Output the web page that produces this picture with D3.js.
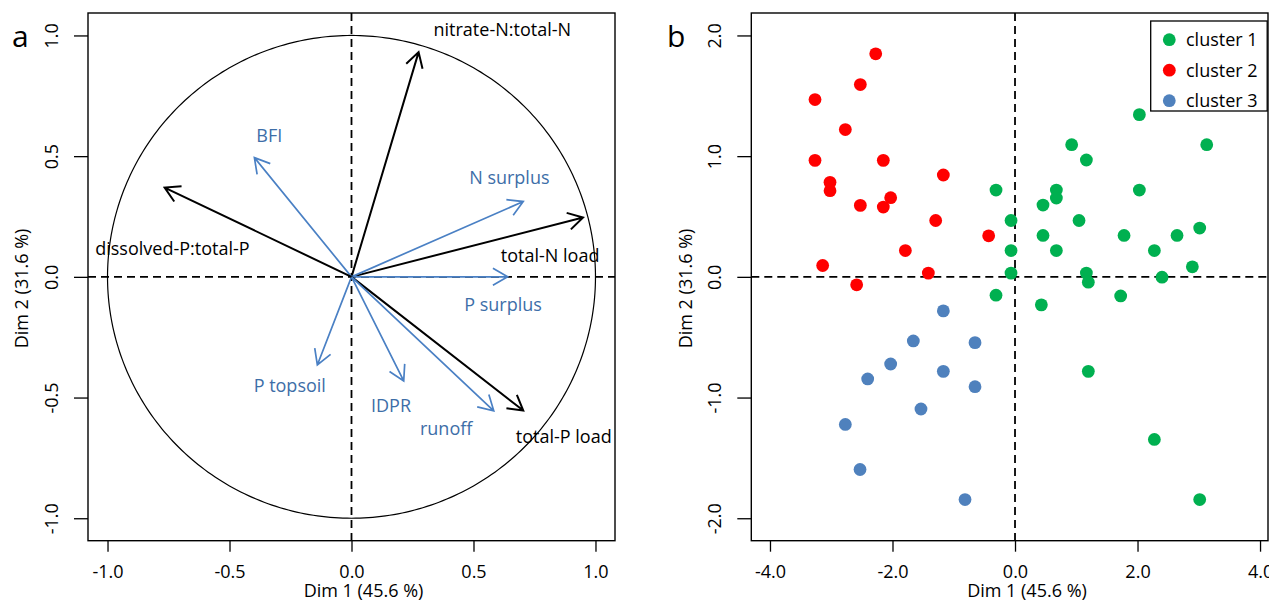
<!DOCTYPE html>
<html><head><meta charset="utf-8">
<script src="https://cdn.jsdelivr.net/npm/d3@7"></script>
<style>
body{margin:0;background:#fff;}
svg{display:block;font-family:"Open Sans",sans-serif;}
</style></head>
<body><svg id="c" width="1269" height="603"></svg>
<script>
// ---------- Panel a: variable correlation circle ----------
const varNames  = ["nitrate-N:total-N","total-N load","N surplus","P surplus","total-P load","runoff","IDPR","P topsoil","BFI","dissolved-P:total-P"];
const varGroup  = ["active","active","supp","supp","active","supp","supp","supp","supp","active"];
const varDim1   = [0.275, 0.949, 0.704, 0.640, 0.704, 0.583, 0.214, -0.140, -0.398, -0.766];
const varDim2   = [0.931, 0.246, 0.312, 0.000, -0.554, -0.555, -0.431, -0.365, 0.494, 0.370];
const labDim1   = [0.618, 0.814, 0.647, 0.621, 0.870, 0.388, 0.162, -0.253, -0.337, -0.734];
const labDim2   = [1.024, 0.088, 0.410, -0.116, -0.663, -0.630, -0.533, -0.452, 0.586, 0.116];
const ticksA    = [-1.0, -0.5, 0.0, 0.5, 1.0];

// ---------- Panel b: individuals by cluster ----------
const clusterNames = ["cluster 1","cluster 2","cluster 3"];
const c1x = [2.03,0.925,3.13,1.165,-0.31,0.675,2.03,0.675,0.457,-0.065,1.045,0.457,1.78,2.645,3.015,-0.065,0.675,2.275,2.895,-0.065,1.165,1.197,2.40,-0.31,1.725,0.43,1.197,2.275,3.015];
const c1y = [1.344,1.095,1.095,0.968,0.719,0.719,0.719,0.653,0.595,0.467,0.467,0.343,0.343,0.343,0.404,0.218,0.218,0.218,0.083,0.031,0.031,-0.044,-0.003,-0.152,-0.158,-0.232,-0.783,-1.347,-1.845];
const c2x = [-2.274,-2.525,-3.265,-2.77,-3.265,-2.15,-1.17,-3.02,-3.02,-2.03,-2.525,-2.15,-1.295,-1.79,-3.14,-1.415,-2.585,-0.43];
const c2y = [1.848,1.593,1.469,1.22,0.965,0.965,0.844,0.783,0.714,0.656,0.592,0.578,0.467,0.218,0.094,0.031,-0.066,0.34];
const c3x = [-1.17,-1.66,-2.03,-1.17,-2.405,-1.535,-2.77,-2.53,-0.816,-0.653,-0.653];
const c3y = [-0.282,-0.531,-0.722,-0.783,-0.846,-1.095,-1.223,-1.596,-1.845,-0.545,-0.910];
const ticksBx = [-4.0, -2.0, 0.0, 2.0, 4.0];
const ticksBy = [-2.0, -1.0, 0.0, 1.0, 2.0];

const colBlack = "#000000", colBlueArrow = "#4a80c4", colBlueText = "#3d6ea8";
const clusterColors = ["#00b050", "#ff0000", "#4f81bd"];

const svg = d3.select("#c");
const FS = 18;

function frame(g, x, y, xt, yt) {
  const [x0,x1] = x.range(), [y1,y0] = y.range();
  g.append("rect").attr("x",x0).attr("y",y0).attr("width",x1-x0).attr("height",y1-y0)
    .attr("fill","none").attr("stroke","#000").attr("stroke-width",1.4);
  const ax = g.append("g").attr("transform",`translate(0,${y1})`)
    .call(d3.axisBottom(x).tickValues(xt).tickSize(11).tickPadding(0).tickFormat(d=>d.toFixed(1)));
  ax.select(".domain").remove();
  ax.selectAll("line").attr("stroke-width",1.3);
  ax.selectAll("text").attr("y",25).attr("dy","0.71em").attr("font-size",FS).attr("fill","#000");
  const ay = g.append("g").attr("transform",`translate(${x0},0)`)
    .call(d3.axisLeft(y).tickValues(yt).tickSize(14).tickFormat(d=>d.toFixed(1)));
  ay.select(".domain").remove();
  ay.selectAll("line").attr("stroke-width",1.3);
  ay.selectAll("text").attr("transform","rotate(-90)").attr("x",0).attr("y",-30).attr("dy",null)
    .attr("text-anchor","middle").attr("font-size",FS).attr("fill","#000");
  ay.attr("font-family",null); ax.attr("font-family",null);
}
function dashes(g, x, y) {
  const [x0,x1] = x.range(), [y1,y0] = y.range();
  g.append("line").attr("x1",x0).attr("x2",x1).attr("y1",y(0)).attr("y2",y(0))
    .attr("stroke","#000").attr("stroke-width",1.8).attr("stroke-dasharray","8,5");
  g.append("line").attr("x1",x(0)).attr("x2",x(0)).attr("y1",y0).attr("y2",y1)
    .attr("stroke","#000").attr("stroke-width",1.8).attr("stroke-dasharray","8,5");
}

// ----- Panel a -----
const xa = d3.scaleLinear().domain([-1.08,1.08]).range([88,615]);
const ya = d3.scaleLinear().domain([-1.093,1.093]).range([540.7,13]);
const ga = svg.append("g");
frame(ga, xa, ya, ticksA, ticksA);
dashes(ga, xa, ya);
const circ = d3.range(0,361).map(a=>[Math.cos(a*Math.PI/180), Math.sin(a*Math.PI/180)]);
ga.append("path").attr("d", d3.line().x(d=>xa(d[0])).y(d=>ya(d[1]))(circ))
  .attr("fill","none").attr("stroke","#000").attr("stroke-width",1.2);
varNames.forEach((n,i)=>{
  const col = varGroup[i]==="active" ? colBlack : colBlueArrow;
  const ox = xa(0), oy = ya(0), tx = xa(varDim1[i]), ty = ya(varDim2[i]);
  const ang = Math.atan2(ty-oy, tx-ox), L = 17, h = Math.PI/6;
  const p = `M${ox},${oy}L${tx},${ty}M${tx-L*Math.cos(ang-h)},${ty-L*Math.sin(ang-h)}L${tx},${ty}L${tx-L*Math.cos(ang+h)},${ty-L*Math.sin(ang+h)}`;
  ga.append("path").attr("d",p).attr("fill","none").attr("stroke",col).attr("stroke-width",varGroup[i]==="active"?2:1.7);
});
varNames.forEach((n,i)=>{
  ga.append("text").attr("x",xa(labDim1[i])).attr("y",ya(labDim2[i])).attr("dy","0.35em")
    .attr("text-anchor","middle").attr("font-size",FS)
    .attr("fill", varGroup[i]==="active" ? "#000" : colBlueText).text(n);
});
ga.append("text").attr("x",363.5).attr("y",597).attr("text-anchor","middle").attr("font-size",FS).text("Dim 1 (45.6 %)");
ga.append("text").attr("transform","translate(28,288.5) rotate(-90)").attr("text-anchor","middle").attr("font-size",FS).text("Dim 2 (31.6 %)");
ga.append("text").attr("x",12).attr("y",47).attr("font-size",30).text("a");

// ----- Panel b -----
const xb = d3.scaleLinear().domain([-4.305,4.13]).range([751.3,1268]);
const yb = d3.scaleLinear().domain([-2.186,2.186]).range([540.7,13]);
const gb = svg.append("g");
frame(gb, xb, yb, ticksBx, ticksBy);
dashes(gb, xb, yb);
const clusters = [[c1x,c1y],[c2x,c2y],[c3x,c3y]];
clusters.forEach(([xs,ys],k)=>{
  gb.selectAll(null).data(xs.map((v,i)=>[v,ys[i]])).enter().append("circle")
    .attr("cx",d=>xb(d[0])).attr("cy",d=>yb(d[1])).attr("r",6.4).attr("fill",clusterColors[k]);
});
gb.append("text").attr("x",1027).attr("y",597).attr("text-anchor","middle").attr("font-size",FS).text("Dim 1 (45.6 %)");
gb.append("text").attr("transform","translate(692,288.5) rotate(-90)").attr("text-anchor","middle").attr("font-size",FS).text("Dim 2 (31.6 %)");
gb.append("text").attr("x",667).attr("y",47).attr("font-size",30).text("b");
const lg = gb.append("g");
lg.append("rect").attr("x",1150.7).attr("y",21).attr("width",116.5).attr("height",90)
  .attr("fill","#fff").attr("stroke","#000").attr("stroke-width",1.3);
const ly = d3.scalePoint().domain(clusterNames).range([39.7,100.7]);
clusterNames.forEach((n,k)=>{
  lg.append("circle").attr("cx",1169.3).attr("cy",ly(n)).attr("r",6.4).attr("fill",clusterColors[k]);
  lg.append("text").attr("x",1186).attr("y",ly(n)).attr("dy","0.35em").attr("font-size",FS).text(n);
});
</script></body></html>
